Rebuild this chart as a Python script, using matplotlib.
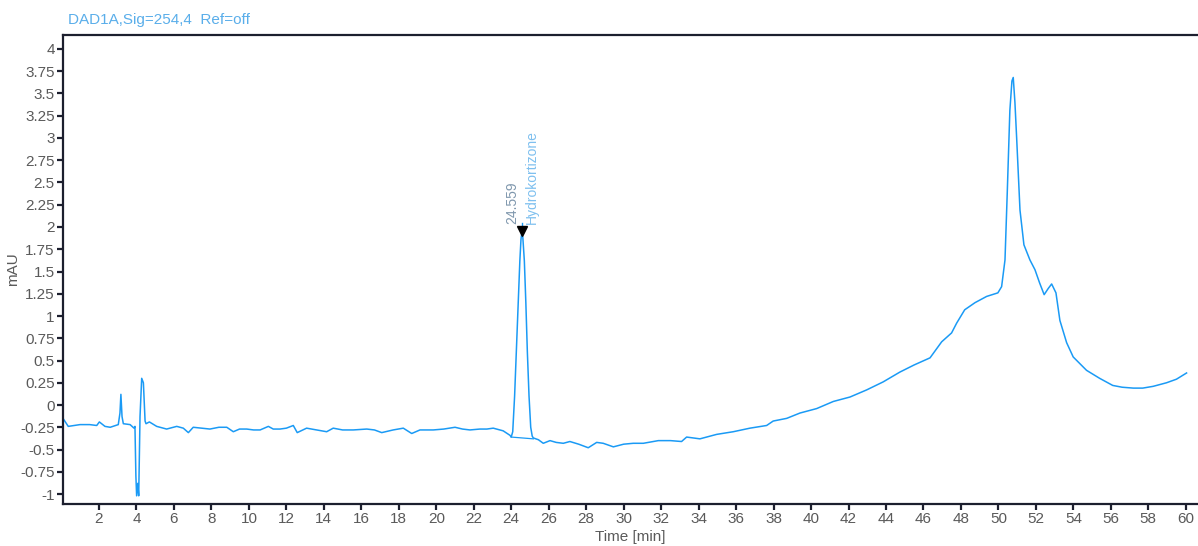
import numpy as np
import matplotlib
matplotlib.use("Agg")
import matplotlib.pyplot as plt


# Chromatogram trace (time in min, signal in mAU)

time_min = [
    0.08, 0.36, 0.99, 1.50, 1.88, 2.02, 2.32, 2.60, 3.03, 3.12, 3.17, 3.23, 3.30,
    3.66, 3.87, 3.92, 3.97, 4.01, 4.07, 4.12, 4.19, 4.28, 4.37, 4.46, 4.51, 4.69,
    5.08, 5.61, 6.15, 6.50, 6.77, 7.03, 7.50, 7.92, 8.40, 8.82, 9.17, 9.50, 9.88,
    10.25, 10.60, 11.04, 11.30, 11.66, 12.00, 12.37, 12.58, 13.08, 13.60, 14.15,
    14.50, 15.00, 15.57, 16.29, 16.70, 17.09, 17.70, 18.24, 18.69, 19.13, 19.84,
    20.40, 21.00, 21.40, 21.80, 22.33, 22.70, 23.04, 23.57, 23.93, 24.00, 24.08,
    24.18, 24.28, 24.38, 24.46, 24.52, 24.56, 24.62, 24.70, 24.78, 24.86, 24.95,
    25.04, 25.12, 25.18, 25.45, 25.71, 26.07, 26.40, 26.78, 27.13, 27.60, 28.11,
    28.56, 28.91, 29.45, 30.00, 30.51, 31.05, 31.85, 32.50, 33.09, 33.36, 34.07,
    34.96, 35.85, 36.74, 37.63, 37.98, 38.70, 39.41, 40.30, 41.19, 42.08, 42.97,
    43.85, 44.74, 45.50, 46.35, 46.97, 47.50, 47.77, 48.20, 48.75, 49.37, 49.97,
    50.17, 50.35, 50.47, 50.61, 50.72, 50.79, 50.88, 50.97, 51.15, 51.36, 51.68,
    51.95, 52.20, 52.44, 52.66, 52.84, 53.07, 53.28, 53.64, 53.99, 54.70, 55.40,
    56.10, 56.60, 57.20, 57.70, 58.26, 58.97, 59.50, 60.04,
]

signal_mau = [
    -0.15, -0.24, -0.22, -0.22, -0.23, -0.19, -0.24, -0.25, -0.22, -0.09, 0.12, -0.13, -0.21,
    -0.22, -0.26, -0.24, -0.80, -1.02, -0.88, -1.02, -0.13, 0.30, 0.25, -0.18, -0.21, -0.19,
    -0.24, -0.27, -0.24, -0.26, -0.31, -0.25, -0.26, -0.27, -0.25, -0.25, -0.30, -0.27, -0.27,
    -0.28, -0.28, -0.24, -0.27, -0.27, -0.26, -0.23, -0.31, -0.26, -0.28, -0.30,
    -0.26, -0.28, -0.28, -0.27, -0.28, -0.31, -0.28, -0.26, -0.32, -0.28, -0.28,
    -0.27, -0.25, -0.27, -0.28, -0.27, -0.27, -0.26, -0.29, -0.34, -0.36, -0.30,
    0.10, 0.65, 1.20, 1.62, 1.86, 1.93, 1.88, 1.62, 1.15, 0.60, 0.10,
    -0.25, -0.35, -0.37, -0.39, -0.43, -0.40, -0.42, -0.43, -0.41, -0.44, -0.48,
    -0.42, -0.43, -0.47, -0.44, -0.43, -0.43, -0.40, -0.40, -0.41, -0.36, -0.38,
    -0.33, -0.30, -0.26, -0.23, -0.18, -0.15, -0.09, -0.04, 0.04, 0.09, 0.17,
    0.26, 0.37, 0.45, 0.53, 0.71, 0.81, 0.92, 1.07, 1.15, 1.22, 1.26,
    1.33, 1.63, 2.38, 3.31, 3.64, 3.68, 3.40, 3.01, 2.19, 1.80, 1.63,
    1.52, 1.37, 1.24, 1.31, 1.36, 1.26, 0.95, 0.70, 0.54, 0.39, 0.30,
    0.22, 0.20, 0.19, 0.19, 0.21, 0.25, 0.29, 0.36,
]

# Integration baseline under the labelled peak
baseline_t = [24.00, 25.18]
baseline_v = [-0.36, -0.38]

peak_rt = 24.559
peak_top = 1.955
peak_name = "Hydrokortizone"

x_ticks = list(range(2, 62, 2))
y_ticks = [-1, -0.75, -0.5, -0.25, 0, 0.25, 0.5, 0.75, 1, 1.25, 1.5, 1.75,
           2, 2.25, 2.5, 2.75, 3, 3.25, 3.5, 3.75, 4]


line_blue = "#1a9af5"
label_gray = "#5a5a5a"
spine_dark = "#1c1f2e"

plt.rcParams["font.family"] = ["Liberation Sans", "DejaVu Sans"]

fig = plt.figure(figsize=(11.98, 5.46), dpi=100)
ax = fig.add_axes([63 / 1198, 1 - 504 / 546, 1 - 63 / 1198, (504 - 35) / 546])

ax.plot(time_min, signal_mau, color=line_blue, linewidth=1.1)
ax.plot(baseline_t, baseline_v, color=line_blue, linewidth=0.9)

# Peak marker and labels
ax.plot([peak_rt, peak_rt], [peak_top, peak_top + 0.09], color=line_blue, linewidth=1.0)
ax.plot(peak_rt, peak_top, marker="v", color="black", markersize=7, linestyle="none")
ax.text(peak_rt - 0.48, peak_top + 0.08, f"{peak_rt:.3f}", rotation=90,
        ha="center", va="bottom", fontsize=10, color="#7f97ad")
ax.text(peak_rt + 0.52, peak_top + 0.08, peak_name, rotation=90,
        ha="center", va="bottom", fontsize=10, color="#7fc0ef")

ax.set_xlim(0.08, 60.65)
ax.set_ylim(-1.112, 4.157)

ax.set_xticks(x_ticks)
ax.set_yticks(y_ticks)
ax.set_yticklabels([f"{v:g}" for v in y_ticks])

ax.spines["right"].set_visible(False)
for side in ["left", "top", "bottom"]:
    ax.spines[side].set_color(spine_dark)
    ax.spines[side].set_linewidth(1.6)

ax.tick_params(axis="both", direction="out", length=4, width=1.6,
               color=spine_dark, labelcolor=label_gray, labelsize=11, pad=2)

ax.set_xlabel("Time [min]", fontsize=11, color=label_gray, labelpad=3)
ax.set_ylabel("mAU", fontsize=11, color=label_gray, labelpad=2)
ax.yaxis.set_label_coords(-0.038, 0.5)

fig.text(68 / 1198, 1 - 20 / 546, "DAD1A,Sig=254,4  Ref=off", fontsize=11,
         color="#5aaeea", ha="left", va="center")

fig.savefig("out.png", dpi=100, facecolor="white")
